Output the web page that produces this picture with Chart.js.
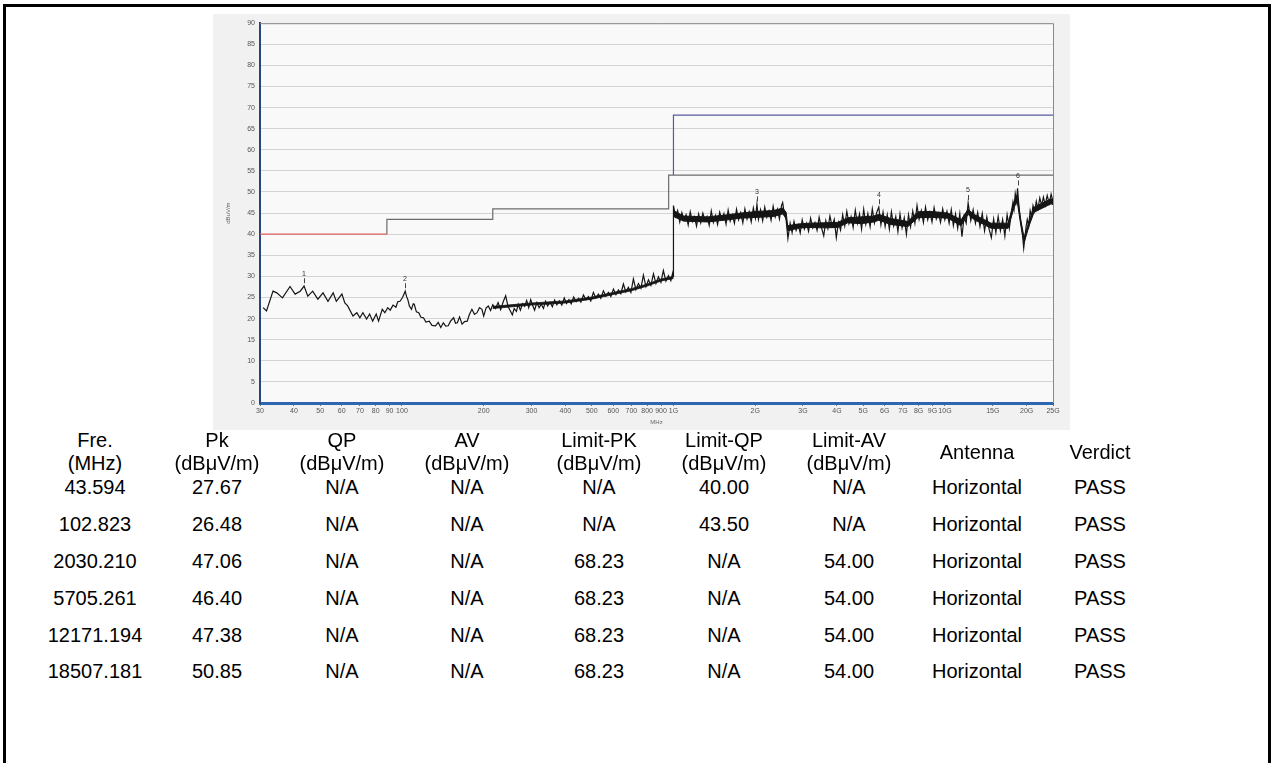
<!DOCTYPE html>
<html>
<head>
<meta charset="utf-8">
<script src="https://cdn.jsdelivr.net/npm/chart.js@4.4.0/dist/chart.umd.min.js"></script>
<style>
html, body { margin: 0; padding: 0; background: #fff; }
body { width: 1274px; height: 763px; overflow: hidden; position: relative; font-family: "Liberation Sans", Arial, sans-serif; }
#frame { position: absolute; left: 3px; top: 4px; width: 1262px; height: 800px; border: 3px solid #000; border-bottom: none; }
#plot { position: absolute; left: 213px; top: 14px; width: 857px; height: 416px; background: #f1f1f1; }
.cell { position: absolute; transform: translateX(-50%); white-space: nowrap; font-size: 20px; line-height: 23px; color: #000; text-align: center; }
</style>
</head>
<body>
<div id="frame"></div>
<div id="plot"><canvas id="emiChart"></canvas></div>
<div id="table"></div>
<script>
// asse x (MHz, logaritmico)
const xTickValues = [30, 40, 50, 60, 70, 80, 90, 100, 200, 300, 400, 500, 600, 700, 800, 900,
    1000, 2000, 3000, 4000, 5000, 6000, 7000, 8000, 9000, 10000, 15000, 20000, 25000];
const xTickLabels = ['30', '40', '50', '60', '70', '80', '90', '100', '200', '300', '400', '500', '600', '700', '800', '900',
    '1G', '2G', '3G', '4G', '5G', '6G', '7G', '8G', '9G', '10G', '15G', '20G', '25G'];

// traccia 30 MHz - 1 GHz
const lowFreq = [30.8, 31.7, 33.5, 34.6, 36.3, 38.7, 40.4, 42.2, 43.6, 45.0,
    46.9, 49.0, 51.2, 53.4, 55.8, 57.3, 60.1, 61.6, 63.1, 66.0,
    68.2, 70.0, 71.8, 74.1, 76.0, 78.0, 80.4, 82.0, 84.6, 86.5,
    88.6, 90.5, 92.7, 95.0, 96.5, 98.3, 100.5, 102.8, 104.0, 105.0,
    106.5, 108.4, 110.0, 111.0, 113.0, 115.3, 117.5, 120.0, 122.5, 126.0,
    129.0, 133.0, 136.0, 139.0, 142.0, 145.0, 148.0, 151.0, 155.0, 157.5,
    160.0, 163.0, 166.5, 170.0, 174.0, 177.0, 181.0, 185.0, 189.0, 193.0,
    197.0, 200.0, 204.0, 208.0, 212.0, 216.0,
    221, 226, 231, 236, 241, 246, 250, 255, 259, 264,
    268, 273, 278, 283, 288, 293, 298, 303, 308, 314,
    320, 326, 332, 338, 344, 351, 358, 365, 372, 380,
    388, 396, 404, 412, 420, 429, 438, 447, 456, 466,
    476, 486, 496, 507, 518, 529, 540, 552, 564, 576,
    588, 601, 614, 627, 640, 654, 668, 682, 697, 712,
    727, 743, 759, 775, 792, 809, 826, 844, 862, 880,
    899, 918, 938, 958, 978, 995, 1000];
const lowLevel = [22.6, 21.8, 26.5, 26.1, 24.9, 27.6, 25.8, 26.5, 27.7, 25.3,
    26.5, 24.6, 26.1, 24.1, 26.1, 24.1, 25.8, 23.7, 23.0, 20.6,
    21.4, 20.2, 21.4, 19.9, 21.1, 19.4, 21.1, 19.4, 22.2, 21.4,
    22.6, 22.0, 23.2, 22.7, 24.0, 24.1, 25.0, 26.5, 25.2, 24.6,
    23.0, 22.2, 23.5, 23.4, 21.6, 21.4, 20.3, 20.2, 19.2, 19.4,
    18.4, 18.3, 19.1, 17.9, 19.0, 18.2, 18.3, 19.4, 20.2, 18.9,
    19.0, 20.4, 18.7, 19.3, 19.4, 20.9, 22.2, 21.0, 21.4, 22.6,
    22.2, 20.6, 22.5, 23.0, 21.9, 23.3,
    22.4, 23.8, 22.1, 24.0, 25.4, 22.8, 22.0, 20.9, 22.4, 21.7,
    23.4, 22.0, 23.5, 22.9, 24.3, 22.6, 24.5, 23.1, 22.0, 23.8,
    22.6, 23.4, 22.4, 24.1, 23.0, 23.9, 22.8, 24.4, 23.3, 24.2,
    23.2, 24.9, 23.6, 24.5, 23.5, 25.1, 24.0, 24.8, 23.9, 25.6,
    24.5, 25.2, 24.2, 26.2, 24.9, 25.8, 24.8, 26.6, 25.3, 26.2,
    25.2, 27.0, 25.7, 26.8, 25.9, 28.2, 26.3, 27.4, 26.2, 29.4,
    26.9, 28.3, 27.2, 30.3, 27.6, 29.2, 27.9, 30.6, 28.3, 29.9,
    28.6, 31.4, 28.9, 30.2, 29.0, 31.0, 29.8];

// fascia densa 200 MHz - 1 GHz
const midBandFreq = [216, 300, 400, 500, 600, 700, 800, 900, 1000];
const midBandTop = [22.9, 23.7, 24.2, 25.1, 26.2, 27.1, 28.2, 29.4, 30.0];
const midBandBottom = [22.4, 23.2, 23.7, 24.6, 25.7, 26.6, 27.7, 28.9, 29.5];

// traccia 1 GHz - 25 GHz
const hiNoiseFreq = [1000, 1018, 1036, 1055, 1074, 1093, 1113, 1133, 1153, 1174,
    1195, 1216, 1238, 1260, 1283, 1306, 1330, 1354, 1378, 1403,
    1428, 1454, 1480, 1507, 1534, 1562, 1590, 1618, 1647, 1677,
    1707, 1738, 1769, 1801, 1833, 1866, 1900, 1934, 1969, 2004,
    2030, 2056, 2093, 2131, 2169, 2208, 2248, 2288, 2329, 2371,
    2414, 2457, 2501, 2525, 2560, 2600,
    2640, 2690, 2735, 2780, 2830, 2880, 2930, 2980, 3035, 3090,
    3145, 3200, 3260, 3320, 3380, 3440, 3500, 3577, 3640, 3705,
    3770, 3840, 3910, 3980, 4050, 4125, 4200, 4275, 4350, 4430,
    4510, 4590, 4675, 4760, 4845, 4930, 5020, 5110, 5200, 5300,
    5400, 5500, 5600, 5705, 5810, 5915, 6020, 6130, 6240, 6350,
    6470, 6590, 6710, 6830, 6950, 7080, 7210, 7340, 7470, 7610,
    7750, 7890, 8030, 8180, 8330, 8480, 8640, 8800, 8960, 9120,
    9290, 9460, 9630, 9810, 9990, 10170, 10360, 10550, 10740, 10940,
    11140, 11340, 11550, 11760, 11970, 12171,
    12450, 12700, 12950, 13200, 13460, 13720, 13990, 14260, 14540, 14820,
    15110, 15400, 15700, 16000, 16310, 16620, 16940, 17260, 17590, 17800,
    17970, 18150, 18350, 18507, 18700, 18900, 19100, 19300, 19500, 19700,
    19900, 20100, 20350, 20600, 20850, 21100, 21400, 21700, 22000, 22350,
    22700, 23050, 23400, 23800, 24200, 24600, 25000];
const hiNoiseLevel = [46.8, 44.2, 45.6, 42.9, 45.1, 43.4, 44.6, 42.2, 45.3, 43.0,
    44.1, 41.9, 44.8, 42.7, 45.0, 43.3, 44.2, 42.1, 45.5, 42.8,
    44.4, 42.3, 45.2, 43.5, 44.9, 42.4, 45.7, 43.1, 44.6, 42.6,
    45.9, 43.4, 45.1, 42.7, 46.0, 43.6, 45.3, 42.9, 46.2, 43.8,
    47.1, 43.5, 45.8, 43.2, 46.4, 44.0, 45.5, 43.3, 46.6, 44.1,
    45.9, 43.6, 46.8, 47.5, 44.8, 43.4,
    39.0, 42.6, 40.4, 43.0, 40.9, 42.2, 40.3, 43.4, 41.2, 42.6,
    40.7, 43.8, 41.5, 42.8, 40.9, 44.0, 41.8, 39.6, 43.2, 41.3,
    44.3, 41.9, 43.5, 39.2, 42.8, 41.0, 44.6, 42.0, 45.4, 42.5,
    44.2, 41.6, 45.7, 42.6, 44.8, 41.2, 45.9, 42.4, 44.9, 41.8,
    46.0, 42.7, 45.1, 46.4, 42.2, 45.2, 41.8, 44.6, 41.2, 45.3,
    42.0, 44.2, 40.6, 44.8, 41.5, 43.9, 40.0, 44.6, 41.8, 45.5,
    42.6, 46.8, 43.5, 45.6, 42.8, 46.4, 43.4, 45.2, 42.9, 46.3,
    43.6, 45.0, 42.8, 46.0, 43.4, 45.4, 42.6, 45.8, 42.0, 44.8,
    41.4, 44.9, 39.4, 44.2, 42.6, 47.4,
    43.2, 45.8, 42.6, 45.2, 41.8, 44.9, 40.8, 44.1, 41.2, 39.2,
    43.6, 40.4, 44.2, 40.8, 43.5, 39.6, 44.6, 41.4, 45.5, 47.6,
    46.0, 49.6, 47.8, 50.9, 47.2, 44.0, 42.5, 39.8, 36.7, 39.2,
    41.8, 43.5, 42.0, 45.6, 44.2, 46.8, 45.4, 47.8, 46.0, 48.6,
    46.8, 48.8, 46.9, 49.2, 47.3, 49.5, 47.8];

// fascia densa 1 - 25 GHz
const hiBandFreq = [1000, 1090, 1335, 1582, 1767, 2042, 2339, 2525, 2600, 2634, 2868, 3123, 3577, 4027, 4386, 4898,
    5470, 5707, 6318, 7303, 7947, 8875, 10260, 11460, 12160, 12790, 14790, 17070, 17970, 18440, 19060, 19570,
    20420, 21290, 24600, 25000];
const hiBandTop = [45.6, 44.3, 44.1, 44.6, 45.0, 45.4, 45.6, 46.2, 45.2, 42.0, 42.4, 42.6, 42.7, 42.8, 43.9, 44.1,
    44.3, 44.7, 43.7, 43.0, 45.3, 45.4, 45.0, 43.4, 45.9, 44.7, 42.6, 42.6, 47.7, 49.3, 43.0, 39.2,
    43.2, 46.4, 48.4, 48.2];
const hiBandBottom = [44.2, 43.1, 42.9, 43.4, 43.8, 44.0, 44.2, 44.8, 43.8, 40.8, 41.4, 41.6, 41.5, 41.6, 42.7, 42.5,
    42.9, 43.3, 42.3, 41.8, 43.9, 44.0, 43.8, 42.0, 44.7, 43.5, 41.4, 41.4, 46.3, 47.9, 41.8, 38.0,
    42.0, 45.2, 47.2, 47.0];

// limiti
const limitQPFreq = [30, 88, 88, 216, 216, 960, 960, 25000];
const limitQPLevel = [40, 40, 43.5, 43.5, 46, 46, 54, 54];
const limitPKFreq = [1000, 1000, 25000];
const limitPKLevel = [54, 68.23, 68.23];

// marker
const markerLabel = ['1', '2', '3', '4', '5', '6'];
const markerFreq = [43.594, 102.823, 2030.210, 5705.261, 12171.194, 18507.181];
const markerLevel = [27.67, 26.48, 47.06, 46.40, 47.38, 50.85];

// tabella
const headLine1 = ['Fre.', 'Pk', 'QP', 'AV', 'Limit-PK', 'Limit-QP', 'Limit-AV', 'Antenna', 'Verdict'];
const headLine2 = ['(MHz)', '(dBμV/m)', '(dBμV/m)', '(dBμV/m)', '(dBμV/m)', '(dBμV/m)', '(dBμV/m)', '', ''];
const tableFreq = ['43.594', '102.823', '2030.210', '5705.261', '12171.194', '18507.181'];
const tablePk = ['27.67', '26.48', '47.06', '46.40', '47.38', '50.85'];
const tableQP = ['N/A', 'N/A', 'N/A', 'N/A', 'N/A', 'N/A'];
const tableAV = ['N/A', 'N/A', 'N/A', 'N/A', 'N/A', 'N/A'];
const tableLimitPK = ['N/A', 'N/A', '68.23', '68.23', '68.23', '68.23'];
const tableLimitQP = ['40.00', '43.50', 'N/A', 'N/A', 'N/A', 'N/A'];
const tableLimitAV = ['N/A', 'N/A', '54.00', '54.00', '54.00', '54.00'];
const tableAntenna = ['Horizontal', 'Horizontal', 'Horizontal', 'Horizontal', 'Horizontal', 'Horizontal'];
const tableVerdict = ['PASS', 'PASS', 'PASS', 'PASS', 'PASS', 'PASS'];

// posizioni tabella
const colX = [95, 217, 342, 467, 599, 724, 849, 977, 1100];
const rowY = [487, 524, 561, 598, 635, 671];

function toPoints(xs, ys) {
    return xs.map((x, i) => ({ x: x, y: ys[i] }));
}

function traceLine(points, extra) {
    return Object.assign({
        data: points,
        borderColor: '#151515',
        borderWidth: 1,
        pointRadius: 0,
        tension: 0,
        fill: false
    }, extra || {});
}

// sfondo area, bordo e marker
const plotDecor = {
    id: 'plotDecor',
    beforeDraw(chart) {
        const { ctx, chartArea: a } = chart;
        ctx.save();
        ctx.fillStyle = '#f9f9f9';
        ctx.fillRect(a.left, a.top, a.right - a.left, a.bottom - a.top);
        ctx.restore();
    },
    afterDraw(chart) {
        const { ctx, chartArea: a } = chart;
        const xs = chart.scales.x, ys = chart.scales.y;
        ctx.save();
        ctx.strokeStyle = '#8a8a8a';
        ctx.lineWidth = 1;
        ctx.beginPath();
        ctx.moveTo(a.left, a.top + 0.5);
        ctx.lineTo(a.right + 0.5, a.top + 0.5);
        ctx.lineTo(a.right + 0.5, a.bottom);
        ctx.stroke();

        ctx.fillStyle = '#333';
        ctx.strokeStyle = '#444';
        ctx.font = '7px "Liberation Sans"';
        ctx.textAlign = 'center';
        ctx.textBaseline = 'bottom';
        markerFreq.forEach((f, i) => {
            const px = Math.round(xs.getPixelForValue(f));
            const py = ys.getPixelForValue(markerLevel[i]);
            ctx.fillText(markerLabel[i], px, py - 9);
            ctx.beginPath();
            ctx.moveTo(px + 0.5, py - 8);
            ctx.lineTo(px + 0.5, py - 3);
            ctx.stroke();
        });
        ctx.restore();
    }
};

const ctx = document.getElementById('emiChart').getContext('2d');
new Chart(ctx, {
    type: 'line',
    data: {
        datasets: [
            traceLine(toPoints(lowFreq.concat(hiNoiseFreq), lowLevel.concat(hiNoiseLevel)), { borderWidth: 1.2 }),
            traceLine(toPoints(hiBandFreq, hiBandTop), { backgroundColor: '#151515', fill: '+1' }),
            traceLine(toPoints(hiBandFreq, hiBandBottom)),
            traceLine(toPoints(midBandFreq, midBandTop), { backgroundColor: '#151515', fill: '+1', borderWidth: 0.8 }),
            traceLine(toPoints(midBandFreq, midBandBottom), { borderWidth: 0.8 }),
            {
                data: toPoints(limitPKFreq, limitPKLevel),
                borderColor: '#5a5a9e',
                borderWidth: 1.2,
                pointRadius: 0,
                tension: 0,
                fill: false
            },
            {
                data: toPoints(limitQPFreq, limitQPLevel),
                borderColor: '#6b6b6b',
                borderWidth: 1.2,
                pointRadius: 0,
                tension: 0,
                fill: false,
                segment: {
                    borderColor: c => c.p0.parsed.x < 88 ? '#e0625f' : '#6b6b6b'
                }
            }
        ]
    },
    options: {
        responsive: true,
        maintainAspectRatio: false,
        animation: false,
        layout: { padding: { top: 5, right: 17, left: 0, bottom: 0 } },
        plugins: {
            legend: { display: false },
            tooltip: { enabled: false }
        },
        scales: {
            x: {
                type: 'logarithmic',
                min: 30,
                max: 25000,
                afterBuildTicks: s => { s.ticks = xTickValues.map(v => ({ value: v })); },
                afterFit: s => { s.height = 27; },
                ticks: {
                    autoSkip: false,
                    maxRotation: 0,
                    minRotation: 0,
                    padding: 1,
                    color: '#555',
                    font: { family: 'Liberation Sans', size: 7 },
                    callback: (v, i) => xTickLabels[i]
                },
                grid: { drawOnChartArea: false, tickLength: 3, color: '#777' },
                border: { color: '#2e67b1', width: 3 },
                title: { display: true, text: 'MHz', color: '#666', padding: { top: 0, bottom: 4 }, font: { family: 'Liberation Sans', size: 6 } }
            },
            y: {
                min: 0,
                max: 90,
                afterFit: s => { s.width = 47; },
                ticks: {
                    stepSize: 5,
                    padding: 5,
                    color: '#555',
                    font: { family: 'Liberation Sans', size: 7 }
                },
                grid: { color: '#d4d4d4', drawTicks: false },
                border: { color: '#24467f', width: 2 },
                title: { display: true, text: 'dBuV/m', color: '#666', padding: { top: 12, bottom: 0 }, font: { family: 'Liberation Sans', size: 6 } }
            }
        }
    },
    plugins: [plotDecor]
});

// tabella risultati
const table = document.getElementById('table');
function addCell(text, x, cy) {
    const d = document.createElement('div');
    d.className = 'cell';
    d.textContent = text;
    d.style.left = x + 'px';
    d.style.top = (cy - 11.5) + 'px';
    table.appendChild(d);
}
headLine1.forEach((h, i) => {
    if (headLine2[i]) {
        addCell(h, colX[i], 440);
        addCell(headLine2[i], colX[i], 463);
    } else {
        addCell(h, colX[i], 452);
    }
});
const columns = [tableFreq, tablePk, tableQP, tableAV, tableLimitPK, tableLimitQP, tableLimitAV, tableAntenna, tableVerdict];
columns.forEach((col, c) => {
    col.forEach((val, r) => addCell(val, colX[c], rowY[r]));
});
</script>
</body>
</html>
